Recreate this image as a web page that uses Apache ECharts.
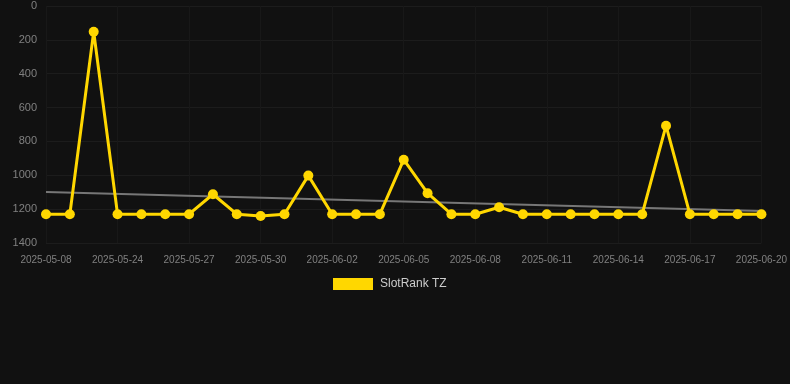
<!DOCTYPE html>
<html>
<head>
<meta charset="utf-8">
<script src="https://cdn.jsdelivr.net/npm/echarts@6/dist/echarts.min.js"></script>
<style>
html,body{margin:0;padding:0;background:#111111;}
#main{width:790px;height:384px;}
</style>
</head>
<body>
<div id="main"></div>
<script>
var categories = ['2025-05-08','2025-05-22','2025-05-23','2025-05-24','2025-05-25','2025-05-26','2025-05-27','2025-05-28','2025-05-29','2025-05-30','2025-05-31','2025-06-01','2025-06-02','2025-06-03','2025-06-04','2025-06-05','2025-06-06','2025-06-07','2025-06-08','2025-06-09','2025-06-10','2025-06-11','2025-06-12','2025-06-13','2025-06-14','2025-06-15','2025-06-16','2025-06-17','2025-06-18','2025-06-19','2025-06-20'];
var rankValues = [1230,1230,152,1230,1230,1230,1230,1112,1230,1240,1230,1002,1230,1230,1230,908,1106,1230,1230,1189,1230,1230,1230,1230,1230,1230,707,1230,1230,1230,1230];
var trendStart = 1099;
var trendEnd = 1211;
var seriesName = 'SlotRank TZ';

var chart = echarts.init(document.getElementById('main'));
chart.setOption({
  backgroundColor: '#111111',
  animation: false,
  grid: {left: 46, right: 28, top: 6, bottom: 141, containLabel: false},
  legend: {
    data: [{name: seriesName, icon: 'rect'}],
    top: 273,
    left: 328,
    itemWidth: 40,
    itemHeight: 12,
    itemGap: 10,
    textStyle: {color: '#cccccc', fontSize: 12, padding: [0, 0, 0, 2], fontFamily: 'Liberation Sans, Arial, sans-serif'}
  },
  xAxis: {
    type: 'category',
    data: categories,
    boundaryGap: false,
    axisLine: {show: false},
    axisTick: {show: false},
    axisLabel: {color: '#808080', fontSize: 10, interval: 2, margin: 12, fontFamily: 'Liberation Sans, Arial, sans-serif'},
    splitLine: {show: true, interval: 2, lineStyle: {color: '#181818', width: 1}}
  },
  yAxis: {
    type: 'value',
    inverse: true,
    min: 0,
    max: 1400,
    interval: 200,
    axisLine: {show: false},
    axisTick: {show: false},
    axisLabel: {color: '#808080', fontSize: 11, margin: 9, fontFamily: 'Liberation Sans, Arial, sans-serif',
      formatter: function (v) { return String(v); }},
    splitLine: {show: true, lineStyle: {color: '#1c1c1c', width: 1}}
  },
  series: [
    {
      name: seriesName,
      type: 'line',
      data: rankValues,
      symbol: 'circle',
      symbolSize: 10,
      lineStyle: {color: '#FFD700', width: 3},
      itemStyle: {color: '#FFD700'},
      z: 3,
      markLine: {
        silent: true,
        symbol: ['none', 'none'],
        label: {show: false},
        lineStyle: {color: '#777777', width: 2, type: 'solid'},
        z: 2,
        data: [[
          {coord: [categories[0], trendStart]},
          {coord: [categories[categories.length - 1], trendEnd]}
        ]]
      }
    }
  ]
});
</script>
</body>
</html>
